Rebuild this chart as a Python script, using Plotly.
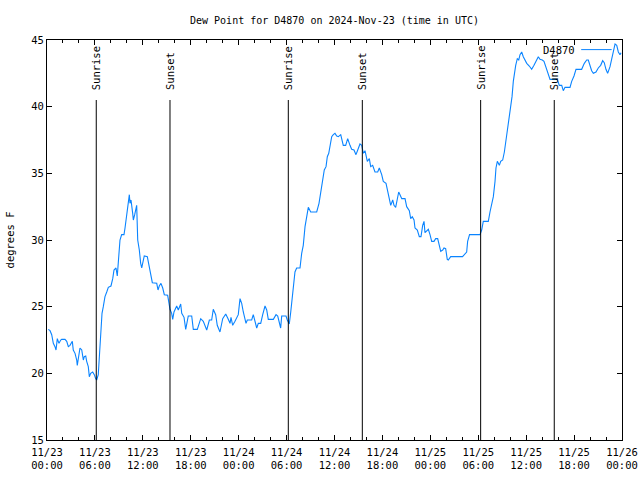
import datetime as dt
import plotly.graph_objects as go

# ---- data ----
start = "2024-11-23 00:00"
end = "2024-11-26 00:00"
hours = [0.16, 0.38, 0.59, 0.79, 1.00, 1.13, 1.29, 1.50, 1.72, 1.84, 2.25, 2.47, 2.67, 2.88,
         3.17, 3.29, 3.51, 3.72, 3.79, 3.97, 4.13, 4.35, 4.55, 4.67, 4.85, 4.97, 5.17, 5.30,
         5.47, 5.72, 5.92, 6.10, 6.22, 6.42, 6.51, 6.67, 6.76, 6.89, 7.05, 7.26, 7.48, 7.68,
         8.01, 8.23, 8.39, 8.64, 8.80, 8.98, 9.14, 9.35, 9.64, 9.77, 9.89, 10.06, 10.18, 10.31,
         10.39, 10.52, 10.73, 10.81, 10.98, 11.11, 11.23, 11.36, 11.56, 11.73, 11.86, 11.98,
         12.18, 12.56, 12.77, 12.99, 13.19, 13.74, 13.90, 14.06, 14.27, 14.49, 14.69, 15.11,
         15.28, 15.40, 15.61, 15.74, 15.90, 16.24, 16.44, 16.74, 16.87, 17.16, 17.37, 17.69,
         18.12, 18.32, 18.82, 19.25, 19.57, 20.00, 20.33, 20.62, 20.82, 21.12, 21.32, 21.66,
         22.00, 22.38, 22.70, 22.92, 23.04, 23.25, 23.54, 23.95, 24.17, 24.38, 24.58, 24.92,
         25.08, 25.63, 25.83, 26.05, 26.26, 26.46, 26.76, 27.01, 27.30, 27.51, 27.71, 28.34,
         28.68, 28.89, 29.09, 29.26, 29.39, 29.93, 30.09, 30.34, 30.52, 30.68, 30.84, 31.05,
         31.26, 31.68, 31.89, 32.09, 32.31, 32.52, 32.72, 33.02, 33.77, 34.06, 34.27, 34.52,
         34.72, 34.94, 35.10, 35.28, 35.44, 35.65, 35.85, 36.06, 36.28, 36.48, 36.78, 37.10,
         37.40, 37.65, 37.94, 38.15, 38.44, 38.69, 38.91, 39.19, 39.41, 39.61, 39.82, 40.11,
         40.36, 40.53, 40.78, 41.07, 41.41, 41.61, 41.91, 42.11, 42.45, 42.61, 42.86, 43.04,
         43.29, 43.45, 43.66, 43.86, 44.04, 44.20, 44.42, 44.83, 45.04, 45.37, 45.54, 45.74,
         45.96, 46.08, 46.37, 46.62, 46.83, 47.04, 47.21, 47.33, 47.55, 47.75, 47.96, 48.17,
         48.46, 48.67, 48.92, 49.12, 49.30, 49.55, 49.71, 49.92, 50.12, 50.25, 50.55, 52.03,
         52.25, 52.55, 52.67, 52.91, 54.22, 54.43, 54.63, 55.26, 55.47, 55.68, 55.89, 56.10,
         56.22, 56.39, 56.64, 56.81, 57.06, 57.27, 57.48, 57.64, 57.89, 58.06, 58.23, 58.39,
         58.52, 58.69, 58.89, 59.07, 59.23, 59.44, 59.64, 59.86, 60.07, 60.39, 60.69, 60.98,
         61.23, 61.52, 61.73, 62.02, 62.23, 62.48, 62.77, 62.99, 63.90, 64.15, 64.45, 64.65,
         64.86, 65.49, 65.70, 65.99, 66.24, 66.95, 67.28, 67.58, 67.78, 67.99, 68.20, 68.41,
         68.74, 69.03, 69.33, 69.58, 69.78, 69.99, 70.20, 70.50, 70.71, 70.91, 71.13, 71.34,
         71.54, 71.75, 71.88]
dewpoint = [23.3, 23.2, 22.9, 22.25, 22.0, 21.75, 22.6, 22.25, 22.5, 22.55, 22.55, 22.4, 22.0, 22.1,
            22.4, 21.75, 21.5, 21.0, 20.6, 21.25, 21.9, 21.75, 21.0, 21.25, 21.3, 20.9, 20.5, 19.75,
            20.0, 20.1, 19.9, 19.6, 19.5, 19.9, 20.75, 21.75, 23.0, 24.5, 25.0, 25.75, 26.1, 26.45,
            26.55, 27.1, 27.75, 27.9, 27.3, 28.5, 30.0, 30.4, 30.4, 30.9, 31.5, 32.0, 32.75, 33.4,
            32.75, 33.0, 32.0, 31.5, 31.9, 32.3, 32.6, 30.0, 29.25, 28.25, 27.9, 28.25,
            28.8, 28.75, 28.0, 27.4, 26.8, 26.75, 26.25, 26.55, 26.75, 26.4, 25.9, 25.85,
            25.25, 24.8, 24.5, 24.05, 24.6, 25.05, 24.75, 25.2, 24.5, 24.2, 23.3, 24.3,
            24.3, 23.3, 23.3, 24.1, 23.9, 23.25, 24.0, 24.0, 24.8, 24.4, 23.6, 23.1,
            24.1, 24.45, 24.05, 23.75, 24.2, 23.6, 23.9, 24.4, 25.6, 25.25, 24.6, 23.75,
            24.0, 24.0, 24.4, 23.9, 23.4, 23.75, 23.75, 24.4, 25.05, 24.75, 24.05, 24.05,
            24.4, 24.3, 23.9, 23.4, 24.3, 24.3, 24.0, 23.7, 24.6, 25.5, 26.8, 27.6,
            27.9, 27.9, 29.0, 29.6, 31.0, 31.75, 32.45, 32.1, 32.1, 32.75, 33.5, 34.5,
            35.25, 35.5, 36.25, 36.5, 37.0, 37.75, 37.9, 38.0, 37.8, 37.75, 37.9, 37.1,
            37.1, 37.6, 37.1, 36.8, 36.75, 36.4, 36.75, 37.2, 37.1, 36.5, 36.7, 35.9,
            36.1, 35.5, 35.6, 35.1, 35.1, 35.4, 34.9, 34.4, 34.25, 33.75, 33.25, 32.6,
            33.0, 32.6, 32.45, 33.0, 33.6, 33.4, 33.1, 33.1, 32.5, 32.2, 31.6, 31.75,
            31.5, 30.9, 30.75, 30.25, 30.25, 31.1, 31.4, 30.55, 30.7, 30.8, 30.4, 29.9,
            29.9, 30.1, 30.1, 29.6, 29.15, 29.25, 29.4, 29.35, 28.55, 28.5, 28.75, 28.75,
            28.9, 29.1, 29.9, 30.4, 30.4, 30.75, 31.4, 31.4, 32.1, 32.7, 33.25, 34.4,
            35.4, 35.9, 35.6, 35.9, 36.0, 36.6, 37.5, 38.0, 39.0, 39.9, 40.75, 41.9,
            42.5, 43.1, 43.6, 43.5, 43.9, 44.1, 43.75, 43.5, 43.25, 43.05, 42.8, 43.1,
            43.4, 43.75, 43.55, 43.5, 43.4, 42.9, 42.5, 42.05, 42.05, 41.6, 41.6, 41.2,
            41.45, 41.45, 41.9, 42.3, 42.8, 42.8, 43.25, 43.5, 43.5, 43.0, 42.7, 42.5,
            42.6, 42.9, 43.1, 43.45, 43.3, 42.8, 42.5, 43.0, 43.5, 44.1, 44.7, 44.6,
            44.1, 43.9, 44.05]
sun_times = ["2024-11-23 06:10", "2024-11-23 15:24", "2024-11-24 06:13",
             "2024-11-24 15:29", "2024-11-25 06:18", "2024-11-25 15:31"]
sun_labels = ["Sunrise", "Sunset", "Sunrise", "Sunset", "Sunrise", "Sunset"]
series_name = "D4870"
y_ticks = [15, 20, 25, 30, 35, 40, 45]

base = dt.datetime.strptime(start, "%Y-%m-%d %H:%M")
times = [(base + dt.timedelta(hours=h)).strftime("%Y-%m-%d %H:%M:%S") for h in hours]

FONT = "DejaVu Sans Mono"
LINE_COLOR = "#0a84ff"

fig = go.Figure()
fig.add_trace(go.Scatter(x=times, y=dewpoint, mode="lines", name=series_name,
                         line=dict(color=LINE_COLOR, width=1.1), showlegend=False))

for t, lab in zip(sun_times, sun_labels):
    fig.add_shape(type="line", xref="x", yref="paper", x0=t, x1=t, y0=0, y1=0.85,
                  line=dict(color="black", width=1))
    fig.add_annotation(x=t, xref="x", y=0.87, yref="paper", text=lab, textangle=-90,
                       showarrow=False, xanchor="center", yanchor="bottom",
                       font=dict(family=FONT, size=10.5, color="black"))

# legend (text left of sample line, gnuplot style)
fig.add_annotation(x=0.921, xref="paper", y=0.976, yref="paper", text=series_name,
                   showarrow=False, xanchor="right", yanchor="middle",
                   font=dict(family=FONT, size=10.5, color="black"))
fig.add_shape(type="line", xref="paper", yref="paper", x0=0.929, x1=0.982,
              y0=0.976, y1=0.976, line=dict(color=LINE_COLOR, width=1))

fig.update_layout(
    width=640, height=480,
    margin=dict(l=47, r=18, t=40, b=40, autoexpand=False),
    paper_bgcolor="white", plot_bgcolor="white",
    font=dict(family=FONT, size=10.5, color="black"),
    title=dict(text="Dew Point for D4870 on 2024-Nov-23 (time in UTC)",
               x=0.5, xref="paper", xanchor="center",
               y=1 - 20 / 480, yref="container", yanchor="middle",
               font=dict(family=FONT, size=10, color="black")),
    showlegend=False,
)
fig.update_xaxes(
    type="date", range=[start, end], tick0=start, dtick=6 * 3600 * 1000,
    tickformat="%m/%d<br>%H:%M", ticks="inside", ticklen=5, tickcolor="black",
    minor=dict(dtick=2 * 3600 * 1000, ticks="inside", ticklen=3, tickcolor="black"),
    showline=True, linecolor="black", linewidth=1, mirror="ticks",
    showgrid=False, zeroline=False, fixedrange=True, ticklabelstandoff=2,
    tickfont=dict(family=FONT, size=10.5, color="black"),
)
fig.update_yaxes(
    range=[15, 45], tickvals=y_ticks, ticks="inside", ticklen=5, tickcolor="black",
    showline=True, linecolor="black", linewidth=1, mirror="ticks",
    showgrid=False, zeroline=False,
    title=dict(text="degrees F", standoff=14, font=dict(family=FONT, size=10.5)),
    tickfont=dict(family=FONT, size=10.5, color="black"),
)

fig.write_html("out.html")
